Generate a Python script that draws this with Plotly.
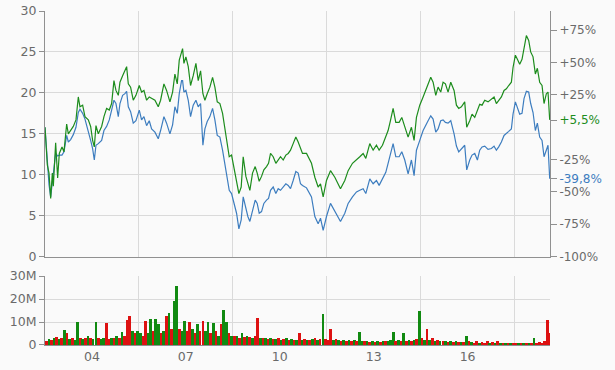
import pandas as pd
import plotly.graph_objects as go

# ---------------- data ----------------
start_date = "2003-01-01"

# time of each line sample, in years after start_date
t_years = [
    0.000, 0.074, 0.128, 0.181, 0.234, 0.266, 0.340, 0.404, 0.457, 0.543, 0.606, 0.692, 0.745, 0.819,
    0.904, 0.989, 1.064, 1.117, 1.202, 1.277, 1.383, 1.458, 1.521, 1.575, 1.628, 1.702, 1.809, 1.883,
    1.968, 2.053, 2.128, 2.202, 2.266, 2.341, 2.394, 2.479, 2.553, 2.607, 2.660, 2.734, 2.819, 2.904,
    3.011, 3.085, 3.160, 3.245, 3.330, 3.405, 3.511, 3.617, 3.692, 3.798, 3.883, 3.990, 4.075, 4.149,
    4.224, 4.288, 4.362, 4.394, 4.437, 4.500, 4.575, 4.649, 4.734, 4.820, 4.894, 4.969, 5.043, 5.107,
    5.181, 5.266, 5.352, 5.426, 5.501, 5.586, 5.671, 5.745, 5.820, 5.884, 5.958, 6.032, 6.118, 6.192,
    6.266, 6.330, 6.416, 6.479, 6.543, 6.628, 6.713, 6.777, 6.841, 6.916, 6.990, 7.075, 7.139, 7.203,
    7.288, 7.373, 7.448, 7.522, 7.607, 7.692, 7.767, 7.841, 7.926, 8.011, 8.086, 8.160, 8.224,
    8.352, 8.511, 8.618, 8.724, 8.799, 8.884, 8.990, 9.118, 9.256, 9.363, 9.437, 9.575, 9.682, 9.820,
    9.948, 10.054, 10.160, 10.246, 10.373, 10.480, 10.586, 10.671, 10.778, 10.884, 10.958, 11.033,
    11.118, 11.203, 11.310, 11.395, 11.490, 11.597, 11.703, 11.788, 11.863, 11.969, 12.076,
    12.235, 12.320, 12.395, 12.480, 12.554, 12.639, 12.714, 12.789, 12.873, 12.959, 13.065, 13.140,
    13.214, 13.299, 13.405, 13.469, 13.565, 13.639, 13.725, 13.810, 13.884, 13.959, 14.044, 14.150,
    14.257, 14.342, 14.416, 14.491, 14.576, 14.661, 14.736, 14.810, 14.895, 14.948, 15.023, 15.087,
    15.161, 15.235, 15.299, 15.374, 15.448, 15.512, 15.587, 15.661, 15.725, 15.799, 15.874, 15.938,
    16.012, 16.065, 16.119,
]

price_green = [
    15.8, 11.2, 10.2, 7.1, 10.2, 8.6, 13.9, 9.6, 12.6, 13.4, 12.8, 16.2, 15.0, 15.4,
    15.9, 16.7, 19.5, 18.3, 18.5, 17.1, 16.7, 15.9, 14.2, 13.4, 16.0, 15.0, 15.9, 17.1,
    18.1, 17.9, 18.7, 21.5, 20.3, 19.7, 21.3, 22.1, 22.7, 23.2, 21.1, 20.7, 19.1, 19.7,
    20.9, 20.1, 20.3, 19.1, 19.5, 19.3, 19.1, 18.3, 19.1, 21.1, 20.3, 18.9, 20.1, 22.3,
    21.1, 24.0, 25.2, 25.4, 23.6, 24.4, 23.2, 20.9, 22.1, 23.6, 21.5, 22.7, 19.9, 19.1,
    19.9, 20.7, 21.9, 20.7, 18.9, 18.7, 17.5, 15.6, 13.4, 12.2, 12.4, 11.0, 9.3, 7.7,
    8.5, 12.2, 9.8, 9.0, 8.1, 10.2, 11.0, 10.2, 9.2, 9.8, 10.6, 11.0, 11.4, 12.6,
    12.2, 11.4, 11.8, 12.2, 11.8, 12.4, 12.6, 13.0, 13.8, 14.6, 14.0, 13.2, 12.6,
    12.6, 11.4, 9.7, 8.5, 8.9, 7.3, 9.3, 10.5, 9.7, 8.9, 8.3, 9.3, 10.5, 11.4,
    11.8, 12.2, 12.6, 12.0, 13.8, 13.0, 13.6, 13.0, 13.6, 14.6, 15.4, 16.6,
    18.1, 16.4, 16.4, 17.0, 15.8, 14.6, 15.8, 14.2, 17.0, 18.5, 19.5,
    21.1, 21.9, 21.3, 19.7, 20.7, 20.1, 21.3, 21.1, 20.1, 21.3, 20.3, 18.5,
    18.1, 18.3, 18.9, 15.8, 16.6, 17.4, 17.0, 17.8, 18.6, 18.5, 19.1, 18.9,
    19.3, 19.5, 18.7, 19.1, 19.5, 20.3, 20.5, 20.9, 21.3, 23.1, 24.6, 24.1,
    23.5, 24.1, 25.6, 27.0, 26.4, 25.0, 24.4, 22.3, 23.0, 21.3, 20.9, 18.7,
    19.9, 20.1, 16.7,
]

price_blue = [
    15.8, 11.8, 8.8, 7.3, 9.0, 9.8, 12.6, 12.3, 12.4, 12.4, 12.8, 14.8, 14.0, 14.3,
    14.9, 15.8, 17.6, 18.0, 17.5, 16.8, 15.4, 14.2, 13.2, 11.8, 13.6, 13.8, 14.2, 15.4,
    15.9, 16.7, 17.9, 19.1, 18.7, 17.1, 18.7, 19.7, 19.9, 20.2, 18.3, 17.7, 16.3, 16.6,
    17.9, 16.7, 17.1, 16.0, 16.6, 15.6, 15.2, 14.4, 15.4, 17.1, 16.3, 15.0, 16.1, 18.3,
    17.5, 19.9, 21.5, 21.5, 20.1, 20.3, 19.1, 17.1, 18.5, 19.1, 18.3, 18.7, 13.6, 15.6,
    16.5, 17.1, 18.1, 16.7, 14.8, 14.6, 13.0, 11.4, 9.3, 8.1, 7.7, 6.7, 5.3, 3.4,
    4.5, 7.3, 5.7, 4.9, 4.3, 5.7, 6.9, 6.5, 5.3, 5.5, 6.5, 6.9, 7.1, 8.1,
    8.5, 7.7, 8.3, 8.1, 8.5, 8.9, 8.7, 8.3, 9.3, 10.4, 10.2, 8.9, 8.7,
    8.4, 7.3, 4.9, 4.0, 4.7, 3.2, 4.9, 6.5, 5.5, 4.9, 4.3, 5.3, 6.5, 7.3,
    7.9, 8.1, 8.3, 7.7, 9.5, 8.9, 9.3, 8.7, 9.5, 10.3, 11.4, 12.6,
    13.8, 12.2, 12.2, 12.8, 11.8, 10.1, 11.8, 9.9, 13.0, 14.2, 15.4,
    16.6, 17.2, 16.8, 15.2, 15.6, 16.6, 16.7, 16.4, 16.3, 16.6, 15.0, 13.5,
    12.8, 13.2, 13.6, 10.6, 11.8, 12.4, 12.6, 11.8, 13.0, 13.4, 13.5, 13.1,
    13.2, 13.5, 13.0, 13.4, 14.0, 14.8, 15.0, 15.3, 15.6, 17.4, 18.9, 18.3,
    17.4, 17.5, 19.3, 20.2, 20.1, 18.7, 17.6, 15.4, 16.3, 14.6, 14.2, 12.2,
    13.0, 13.6, 9.5,
]

# monthly volume (millions), Jan 2003 .. Feb 2019
volume_mio = [
    1.5, 2.5, 2, 3, 3.5, 2.5, 3, 6.5, 5, 2.5, 3, 2,              # 2003
    9.8, 3, 2.5, 3, 4, 3, 2.5, 10, 3, 2.5, 3, 9.7,               # 2004
    2.5, 3, 3, 4, 3, 5.5, 4, 11, 12.7, 6, 5, 6,                  # 2005
    5, 4, 10.5, 5, 11.3, 6, 11.3, 9, 5, 6, 12.7, 14,             # 2006
    7, 19, 25.7, 7, 6, 10.5, 6, 10, 7, 5, 9, 6,                  # 2007
    10.5, 6, 9.8, 5, 9.5, 6, 4, 9, 15.4, 9.8, 5, 4,              # 2008
    4, 4, 3, 5, 3.5, 4, 3.5, 3, 4, 11.7, 3, 3,                   # 2009
    3, 2.5, 3, 2.5, 2.5, 3, 2, 2.5, 3, 2, 2.5, 2,                # 2010
    2, 5, 2, 2.5, 2, 2, 2.5, 3, 2, 2.5, 13.6, 2.5,               # 2011
    2, 6.8, 2, 2.5, 2, 1.5, 2, 1.5, 2, 1.5, 2, 1.5,              # 2012
    5.7, 1.5, 1.5, 1.5, 1.2, 1.5, 1.2, 1.5, 1.2, 1.5, 1.5, 1.5,  # 2013
    2, 5.7, 1.5, 2, 1.5, 5.4, 1.5, 2, 1.5, 2, 2.5, 14.6,         # 2014
    3, 2, 6.8, 2, 3, 1.5, 2, 1.5, 1.5, 1.5, 1.2, 1.5,            # 2015
    1.2, 1.5, 1.2, 1.2, 1.2, 4, 1.5, 1.2, 1, 1.5, 1, 1.2,        # 2016
    1, 1.5, 1, 1.2, 1, 1.5, 1, 0.8, 1, 0.8, 1, 0.8,              # 2017
    1, 0.8, 1, 0.8, 1, 0.8, 1, 3, 0.8, 1.2, 1, 1.5,              # 2018
    11, 5,                                                       # 2019
]
# g = up month, r = down month
volume_dir = (
    "rgrgrgrgrgrg" "grgrgrggrggr" "rgrgrgrrrgrg" "grrggrggrgrg"
    "rggrggrrgrgr" "rggrgrgrggrg" "rgrgrgrgrrgr" "grgrgrgrgrgr"
    "grgrgrgrgrgr" "rrgrgrgrgrgr" "ggrgrgrgrgrg" "ggrgrgrgrgrg"
    "rgrgrgrgrgrg" "rgrgrgrgrrgr" "rrgrgrgrgrgr" "rgrgrgrgrrrr" "rr"
)

base_price = 15.8
pct_ticks = [-100, -75, -50, -39.8, -25, 5.5, 25, 50, 75]
price_ticks = [0, 5, 10, 15, 20, 25, 30]
vol_ticks = [0, 10, 20, 30]
vol_tick_text = ["0", "10M", "20M", "30M"]
year_label_dates = ["2004-07-01", "2007-07-01", "2010-07-01", "2013-07-01", "2016-07-01"]
year_labels = ["04", "07", "10", "13", "16"]
grid_dates = ["2006-01-01", "2009-01-01", "2012-01-01", "2015-01-01", "2018-01-01"]
x_range = ["2003-01-01", "2019-02-17"]

# ---------------- styling ----------------
GREEN = "#1c8c1c"
BLUE = "#3d7dbf"
BAR_GREEN = "#118a11"
BAR_RED = "#dd1111"
GRID = "#dadada"
AXIS = "#909090"
TEXT = "#6a6a6a"
BG = "#fafafa"

line_dates = pd.Timestamp(start_date) + pd.to_timedelta([v * 365.25 for v in t_years], unit="D")
vol_dates = pd.date_range(start_date, periods=len(volume_mio), freq="MS") + pd.Timedelta(days=15)
vol_colors = [BAR_GREEN if c == "g" else BAR_RED for c in volume_dir]


def pct_label(v):
    s = ("%+.1f" % v).replace(".", ",") if abs(v - round(v)) > 1e-9 else "%+d" % v
    return s + "%"


pct_text = []
for v in pct_ticks:
    lab = pct_label(v)
    if v == 5.5:
        lab = "<span style='color:%s'>%s</span>" % (GREEN, lab)
    elif v == -39.8:
        lab = "<span style='color:%s'>%s</span>" % (BLUE, lab)
    pct_text.append(lab)

pct_top = (price_ticks[-1] / base_price - 1) * 100

fig = go.Figure()
fig.add_trace(go.Scatter(x=line_dates, y=price_blue, mode="lines",
                         line=dict(color=BLUE, width=1.2), xaxis="x", yaxis="y", hoverinfo="skip"))
fig.add_trace(go.Scatter(x=line_dates, y=price_green, mode="lines",
                         line=dict(color=GREEN, width=1.2), xaxis="x", yaxis="y", hoverinfo="skip"))
fig.add_trace(go.Scatter(x=[line_dates[0]], y=[-100], mode="markers", marker=dict(opacity=0),
                         xaxis="x", yaxis="y2", hoverinfo="skip"))
fig.add_trace(go.Bar(x=vol_dates, y=[v * 1e6 for v in volume_mio], marker=dict(color=vol_colors, line=dict(width=0)),
                     width=30.5 * 86400000, xaxis="x2", yaxis="y3", hoverinfo="skip"))

fig.update_layout(
    width=615, height=370,
    margin=dict(l=45, r=64.5, t=10.5, b=25, autoexpand=False),
    paper_bgcolor=BG, plot_bgcolor=BG,
    showlegend=False,
    bargap=0,
    font=dict(family="DejaVu Sans", size=12.5, color=TEXT),
    xaxis=dict(domain=[0, 1], anchor="y", type="date", range=x_range,
               showticklabels=False, ticks="", showgrid=False, zeroline=False,
               showline=True, linecolor=AXIS, linewidth=1,
               minor=dict(tickmode="array", tickvals=grid_dates, showgrid=True, gridcolor=GRID, gridwidth=1, ticks="")),
    yaxis=dict(domain=[0.2646, 1], anchor="x", range=[0, 30],
               tickmode="array", tickvals=price_ticks, ticks="outside", ticklen=5, tickcolor=AXIS,
               showline=True, linecolor=AXIS, showgrid=False, zeroline=False,
               minor=dict(tickmode="array", tickvals=price_ticks[1:-1], showgrid=True, gridcolor=GRID, gridwidth=1, ticks="")),
    yaxis2=dict(overlaying="y", side="right", anchor="x", range=[-100, pct_top],
                tickmode="array", tickvals=pct_ticks, ticktext=pct_text,
                tickfont=dict(size=12),
                ticks="outside", ticklen=6, tickcolor=AXIS,
                showline=True, linecolor=AXIS, showgrid=False, zeroline=False),
    xaxis2=dict(domain=[0, 1], anchor="y3", type="date", range=x_range,
                tickmode="array", tickvals=year_label_dates, ticktext=year_labels, ticks="",
                showgrid=False, zeroline=False, showline=True, linecolor=AXIS,
                minor=dict(tickmode="array", tickvals=grid_dates + [x_range[1]], showgrid=True, gridcolor=GRID, gridwidth=1, ticks="")),
    yaxis3=dict(domain=[0, 0.2063], anchor="x2", range=[0, 30e6],
                tickmode="array", tickvals=[v * 1e6 for v in vol_ticks], ticktext=vol_tick_text,
                ticks="outside", ticklen=5, tickcolor=AXIS,
                showline=True, linecolor=AXIS, showgrid=True, gridcolor=GRID, zeroline=False),
)

fig.write_html(
    "out.html",
    config={"displayModeBar": False},
    post_script="document.body.style.margin='0';document.body.style.background='%s';" % BG,
)
